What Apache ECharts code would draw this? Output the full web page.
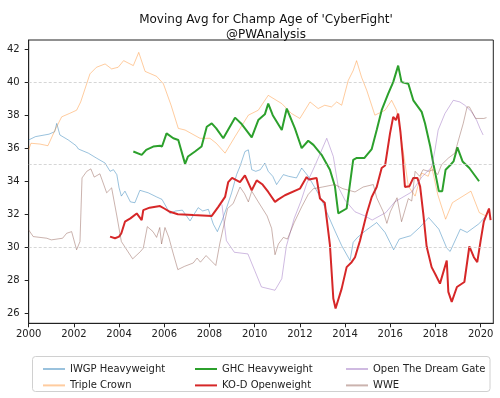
<!DOCTYPE html>
<html>
<head>
<meta charset="utf-8">
<script src="https://cdn.jsdelivr.net/npm/echarts@6/dist/echarts.min.js"></script>
<style>
  html, body { margin: 0; padding: 0; background: #fff; }
  #chart { width: 500px; height: 398px; }
</style>
</head>
<body>
<div id="chart"></div>
<script>
  // 刻度与网格线
  const xTicks = [2000, 2002, 2004, 2006, 2008, 2010, 2012, 2014, 2016, 2018, 2020];
  const yTicks = [26, 28, 30, 32, 34, 36, 38, 40, 42];
  const gridLines = [30, 35, 40];

  // 各冠军腰带的年龄移动平均 [年份, 年龄]
  const iwgp = [[2000,36.5],[2000.3,36.7],[2000.9,36.85],[2001.15,37.0],[2001.24,37.5],[2001.38,36.8],[2001.75,36.5],[2002.1,36.15],[2002.2,35.95],[2002.25,36.05],[2002.64,35.7],[2003.0,35.4],[2003.38,35.1],[2003.6,34.6],[2003.75,34.7],[2003.9,34.4],[2004.0,33.6],[2004.1,33.1],[2004.26,33.4],[2004.5,32.75],[2004.7,32.7],[2004.92,33.45],[2005.29,33.3],[2005.66,33.05],[2005.9,32.9],[2006.25,32.05],[2006.5,32.2],[2006.8,32.25],[2007.14,31.6],[2007.5,32.4],[2007.7,32.2],[2007.95,32.3],[2008.17,31.4],[2008.35,30.95],[2008.55,31.6],[2008.76,32.4],[2008.98,33.3],[2009.2,34.4],[2009.35,34.9],[2009.57,35.8],[2009.72,35.9],[2009.87,34.7],[2010.05,34.6],[2010.25,34.7],[2010.45,35.1],[2010.6,34.6],[2010.8,34.3],[2010.97,33.8],[2011.27,34.4],[2011.5,34.3],[2011.85,34.2],[2012.08,34.8],[2012.37,34.3],[2012.67,33.6],[2012.96,32.9],[2013.26,31.9],[2013.55,31.0],[2013.85,30.1],[2014.22,29.2],[2014.36,30.3],[2014.55,30.6],[2014.9,31.0],[2015.4,31.5],[2015.77,30.9],[2016.15,29.85],[2016.4,30.5],[2016.9,30.7],[2017.3,31.2],[2017.7,31.8],[2018.15,31.1],[2018.5,29.95],[2018.65,29.75],[2019.1,31.1],[2019.4,30.9],[2019.9,31.4],[2020.05,31.6],[2020.26,31.95]];
  const tripleCrown = [[2000,35.9],[2000.1,36.3],[2000.5,36.25],[2000.85,36.15],[2001.2,37.2],[2001.46,37.9],[2001.8,38.1],[2002.12,38.3],[2002.3,38.8],[2002.71,40.5],[2003.0,40.9],[2003.38,41.1],[2003.67,40.8],[2003.96,40.9],[2004.2,41.3],[2004.63,41.0],[2004.87,41.8],[2005.15,40.65],[2005.66,40.35],[2005.96,39.9],[2006.3,38.6],[2006.62,37.2],[2006.92,37.1],[2007.58,36.6],[2008.02,36.6],[2008.3,36.3],[2008.69,35.7],[2009.13,36.7],[2009.72,38.0],[2010.16,38.3],[2010.6,39.2],[2011.2,38.7],[2011.63,38.1],[2012.0,37.8],[2012.45,38.8],[2012.81,38.4],[2013.1,38.6],[2013.4,38.5],[2013.63,38.8],[2013.85,38.6],[2014.14,40.1],[2014.36,40.7],[2014.51,41.3],[2014.73,40.3],[2014.96,39.5],[2015.32,38.0],[2015.77,38.3],[2016.06,38.9],[2016.28,38.3],[2016.43,37.1],[2016.65,35.1],[2016.8,33.7],[2017.1,33.1],[2017.39,34.5],[2017.68,34.3],[2017.83,34.9],[2018.1,33.2],[2018.45,31.7],[2018.75,32.7],[2019.57,33.4],[2019.94,32.1],[2020.23,31.9]];
  const ghc = [[2004.63,35.8],[2005.0,35.6],[2005.2,35.9],[2005.51,36.1],[2005.81,36.15],[2005.9,36.1],[2006.1,36.9],[2006.4,36.6],[2006.62,36.5],[2006.92,35.05],[2007.05,35.5],[2007.36,35.8],[2007.65,36.1],[2007.88,37.3],[2008.1,37.5],[2008.3,37.2],[2008.61,36.6],[2009.13,37.85],[2009.4,37.5],[2009.87,36.65],[2010.16,37.7],[2010.45,38.05],[2010.6,38.7],[2010.8,38.0],[2011.2,37.1],[2011.42,38.4],[2011.5,38.5],[2011.78,37.2],[2012.08,36.0],[2012.37,36.45],[2012.6,36.2],[2012.96,35.6],[2013.33,34.7],[2013.55,33.7],[2013.7,32.05],[2014.07,32.35],[2014.36,35.3],[2014.5,35.4],[2014.85,35.4],[2015.18,35.95],[2015.4,37.1],[2015.62,38.3],[2015.91,39.3],[2016.13,40.0],[2016.35,41.0],[2016.5,40.0],[2016.8,39.9],[2017.02,38.9],[2017.39,38.2],[2017.54,37.5],[2017.77,36.1],[2017.9,35.1],[2018.05,34.1],[2018.15,33.4],[2018.3,33.4],[2018.45,34.7],[2018.67,35.0],[2018.8,35.2],[2018.97,36.05],[2019.2,35.2],[2019.5,34.8],[2019.93,34.0]];
  const kod = [[2003.6,30.65],[2003.82,30.55],[2004.0,30.65],[2004.1,30.85],[2004.26,31.55],[2004.5,31.75],[2004.78,32.05],[2005.0,31.65],[2005.07,32.25],[2005.35,32.4],[2005.81,32.5],[2006.0,32.35],[2006.25,32.15],[2006.6,32.0],[2007.28,31.95],[2008.1,31.9],[2008.39,32.45],[2008.69,33.05],[2008.83,33.95],[2009.0,34.2],[2009.35,33.95],[2009.57,34.35],[2009.87,33.45],[2010.09,34.05],[2010.35,33.8],[2010.6,33.35],[2010.9,32.75],[2011.05,32.9],[2011.34,33.15],[2012.0,33.55],[2012.3,34.25],[2012.4,34.1],[2012.74,34.2],[2012.89,32.95],[2013.1,32.7],[2013.33,30.15],[2013.48,26.9],[2013.58,26.3],[2013.65,26.3],[2013.85,27.5],[2014.07,28.8],[2014.29,29.1],[2014.44,29.4],[2014.66,30.4],[2014.96,32.05],[2015.18,33.05],[2015.4,33.65],[2015.62,34.8],[2015.77,34.95],[2015.99,36.9],[2016.13,37.9],[2016.25,37.7],[2016.35,38.1],[2016.45,37.0],[2016.55,35.5],[2016.65,33.65],[2016.85,33.7],[2017.02,34.2],[2017.2,34.2],[2017.32,33.7],[2017.46,32.05],[2017.61,30.05],[2017.83,28.8],[2018.0,28.35],[2018.2,27.8],[2018.5,29.2],[2018.57,27.3],[2018.72,26.7],[2018.95,27.6],[2019.28,27.9],[2019.5,30.05],[2019.7,29.4],[2019.85,29.1],[2020.0,30.4],[2020.14,31.55],[2020.37,32.35],[2020.44,31.65]];
  const dreamGate = [[2008.55,32.6],[2008.75,30.4],[2009.1,29.7],[2009.7,29.6],[2010.0,28.6],[2010.3,27.6],[2010.9,27.4],[2011.2,28.1],[2011.4,30.05],[2011.75,31.75],[2012.05,32.8],[2012.3,33.85],[2012.67,34.95],[2013.19,36.6],[2013.48,35.5],[2013.7,33.65],[2014.0,32.85],[2014.44,32.15],[2014.88,31.9],[2015.2,31.65],[2015.8,32.1],[2016.2,32.75],[2016.95,33.35],[2017.39,34.25],[2017.83,34.85],[2017.98,35.9],[2018.12,37.1],[2018.42,38.1],[2018.79,38.9],[2019.08,38.8],[2019.3,38.6],[2019.6,38.2],[2019.82,37.7],[2019.97,37.2],[2020.11,36.8]];
  const wwe = [[2000,31.05],[2000.2,30.65],[2000.8,30.55],[2001.0,30.45],[2001.5,30.55],[2001.68,30.85],[2001.9,30.95],[2002.12,29.85],[2002.27,30.35],[2002.36,34.2],[2002.57,34.6],[2002.75,34.75],[2002.9,34.25],[2003.15,34.45],[2003.45,33.3],[2003.67,33.6],[2003.9,31.9],[2004.1,30.35],[2004.6,29.3],[2004.95,29.75],[2005.07,29.95],[2005.25,31.25],[2005.5,30.95],[2005.66,30.6],[2005.8,31.2],[2005.88,30.2],[2006.03,31.2],[2006.2,30.6],[2006.4,29.6],[2006.6,28.65],[2006.9,28.85],[2007.28,29.05],[2007.45,29.35],[2007.6,29.1],[2007.85,29.5],[2008.1,29.15],[2008.28,28.9],[2008.46,30.25],[2008.8,32.35],[2009.05,32.65],[2009.35,33.65],[2009.55,33.25],[2009.72,32.75],[2009.87,33.4],[2010.16,32.75],[2010.55,31.9],[2010.75,31.15],[2010.9,29.55],[2011.05,30.2],[2011.27,30.6],[2011.45,30.5],[2011.75,31.5],[2012.08,32.45],[2012.37,33.2],[2012.6,33.55],[2013.0,33.65],[2013.55,33.8],[2013.9,33.55],[2014.44,33.35],[2014.8,33.65],[2015.25,33.8],[2015.4,33.0],[2015.69,32.15],[2015.85,31.45],[2016.0,32.15],[2016.3,33.0],[2016.5,31.55],[2016.8,32.95],[2016.95,32.8],[2017.1,34.6],[2017.3,34.3],[2017.45,34.7],[2017.7,34.6],[2017.9,34.7],[2018.1,34.4],[2018.27,35.0],[2018.57,35.4],[2018.86,35.7],[2019.0,36.4],[2019.23,37.5],[2019.4,38.5],[2019.5,38.5],[2019.78,37.8],[2020.14,37.8],[2020.26,37.85]];

  const font = 'DejaVu Sans';
  const axisColor = '#222';

  // 细线(半透明)和粗线的通用样式
  function line(name, data, color, width, opacity) {
    return {
      name: name,
      type: 'line',
      data: data,
      showSymbol: false,
      symbol: 'none',
      smooth: false,
      color: color,
      lineStyle: {color: color, width: width, opacity: opacity}
    };
  }

  const series = [
    line('IWGP Heavyweight', iwgp, '#1f77b4', 1, 0.45),
    line('Triple Crown', tripleCrown, '#ff7f0e', 1, 0.4),
    line('GHC Heavyweight', ghc, '#2ca02c', 2, 1),
    line('KO-D Openweight', kod, '#d62728', 2, 1),
    line('Open The Dream Gate', dreamGate, '#9467bd', 1, 0.45),
    line('WWE', wwe, '#8c564b', 1, 0.45)
  ];
  // 背景虚线
  series[0].markLine = {
    silent: true,
    symbol: ['none', 'none'],
    label: {show: false},
    lineStyle: {color: '#cccccc', type: [3, 2], width: 0.8, opacity: 1},
    data: gridLines.map(v => ({yAxis: v}))
  };

  function legendCol(left, names) {
    return {
      orient: 'vertical',
      left: left,
      top: 359,
      itemWidth: 22,
      itemHeight: 10,
      itemGap: 6.4,
      itemStyle: {opacity: 0},
      textStyle: {fontFamily: font, fontSize: 10, color: '#222'},
      data: names
    };
  }

  const chart = echarts.init(document.getElementById('chart'));
  chart.setOption({
    animation: false,
    backgroundColor: '#fff',
    title: {
      text: "Moving Avg for Champ Age of 'CyberFight'\n@PWAnalysis",
      left: 261,
      top: 7,
      textAlign: 'center',
      textStyle: {fontFamily: font, fontSize: 12, fontWeight: 'normal', color: '#111', lineHeight: 15}
    },
    grid: {
      left: 28.7, right: 6.7, top: 40, bottom: 74.7,
      show: true, borderColor: axisColor, borderWidth: 1
    },
    graphic: [{
      type: 'rect',
      shape: {x: 32.5, y: 356.5, width: 457.5, height: 35, r: 3},
      style: {fill: '#fff', stroke: '#d0d0d0', lineWidth: 1},
      z: -1
    }],
    legend: [
      legendCol(37, ['IWGP Heavyweight', 'Triple Crown']),
      legendCol(189, ['GHC Heavyweight', 'KO-D Openweight']),
      legendCol(340, ['Open The Dream Gate', 'WWE'])
    ],
    xAxis: {
      type: 'value',
      min: 2000,
      max: 2020.56,
      axisLine: {show: true, lineStyle: {color: axisColor}},
      axisTick: {show: true, length: 4, customValues: xTicks, lineStyle: {color: axisColor}},
      axisLabel: {customValues: xTicks, margin: 6, fontFamily: font, fontSize: 10, color: '#222', formatter: v => String(v)},
      splitLine: {show: false}
    },
    yAxis: {
      type: 'value',
      min: 25.4,
      max: 42.55,
      axisLine: {show: true, lineStyle: {color: axisColor}},
      axisTick: {show: true, length: 4, customValues: yTicks, lineStyle: {color: axisColor}},
      axisLabel: {customValues: yTicks, margin: 9, fontFamily: font, fontSize: 10, color: '#222'},
      splitLine: {show: false}
    },
    series: series
  });
</script>
</body>
</html>
